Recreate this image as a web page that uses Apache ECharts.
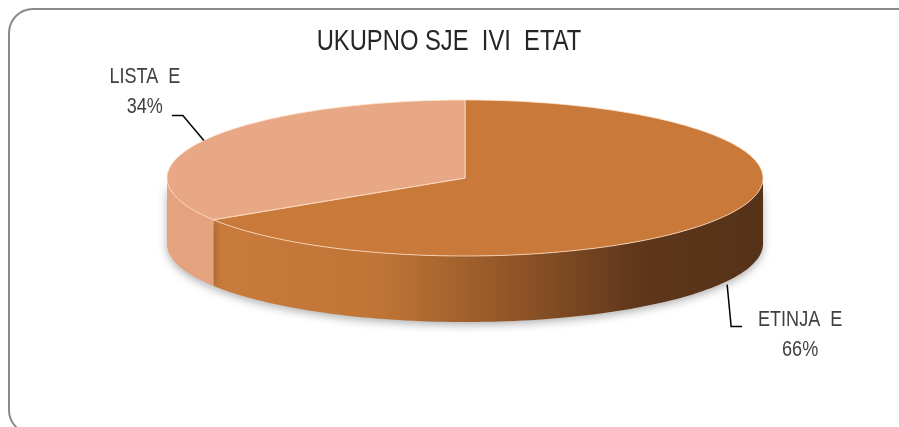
<!DOCTYPE html>
<html>
<head>
<meta charset="utf-8">
<script src="https://cdn.jsdelivr.net/npm/echarts@6/dist/echarts.min.js"></script>
<style>
  html, body { margin: 0; padding: 0; background: #fff; }
  #chart { width: 899px; height: 427px; }
</style>
</head>
<body>
<div id="chart"></div>
<script>
// podaci
var categories = ['ETINJA  E', 'LISTA  E'];
var shares = [66, 34];
var chartTitle = 'UKUPNO SJE  IVI  ETAT';

// boje
var topColors = ['#C97A3A', '#E8A886'];
var sideColors = [
  new echarts.graphic.LinearGradient(0, 0, 1, 0, [
    { offset: 0, color: '#C97B3B' },
    { offset: 0.3, color: '#C07536' },
    { offset: 0.55, color: '#8F5427' },
    { offset: 0.78, color: '#5E361A' },
    { offset: 1, color: '#553218' }
  ]),
  '#E4A27F'
];
var narrow = 0.82; // uski font (Arial Narrow izgled)

// geometrija elipse
var cx = 465, cy = 178, rx = 298, ry = 78, depth = 66;
var total = shares.reduce(function (a, b) { return a + b; }, 0);

function pt(deg, dy) {
  var r = deg * Math.PI / 180;
  return [cx + rx * Math.cos(r), cy - ry * Math.sin(r) + (dy || 0)];
}
function sliceRange(i) {
  var before = 0;
  for (var k = 0; k < i; k++) before += shares[k];
  var start = 90 - 360 * before / total;
  var end = start - 360 * shares[i] / total;
  return [start, end];
}
function arc(a, b, dy) {
  var pts = [], n = Math.max(2, Math.ceil(Math.abs(b - a) / 1.5));
  for (var j = 0; j <= n; j++) pts.push(pt(a + (b - a) * j / n, dy));
  return pts;
}

function renderSide(params, api) {
  var i = params.dataIndex;
  var r = sliceRange(i);
  var hi = r[0], lo = r[1];
  var children = [];
  [[-180, 0], [180, 360], [-540, -360]].forEach(function (f) {
    var a = Math.max(lo, f[0]), b = Math.min(hi, f[1]);
    if (b - a > 0.01) {
      var pts = arc(a, b, 0).concat(arc(b, a, depth));
      children.push({
        type: 'polygon',
        shape: { points: pts },
        style: {
          fill: sideColors[i],
          shadowBlur: 8,
          shadowColor: 'rgba(0,0,0,0.3)',
          shadowOffsetY: 3
        }
      });
    }
  });
  return { type: 'group', children: children };
}

function renderTop(params, api) {
  var i = params.dataIndex;
  var r = sliceRange(i);
  var pts = [[cx, cy]].concat(arc(r[0], r[1], 0));
  var children = [{
    type: 'polygon',
    shape: { points: pts },
    style: { fill: topColors[i], stroke: 'rgba(255,228,205,0.75)', lineWidth: 1 }
  }];
  var mid = (r[0] + r[1]) / 2;
  var label = categories[i] + '\n' + Math.round(api.value(0) / total * 100) + '%';
  var p0, p1, p2, tx, ty;
  if (Math.sin(mid * Math.PI / 180) < 0 || Math.cos(mid * Math.PI / 180) > 0) {
    p0 = pt(mid, depth); p0 = [p0[0] + 1, p0[1] + 3];
    p1 = [p0[0] + 4, p0[1] + 42];
    p2 = [p1[0] + 11, p1[1]];
    tx = p2[0] + 58; ty = p2[1] + 8;
  } else {
    p0 = pt(mid, 0);
    p1 = [p0[0] - 21, p0[1] - 25];
    p2 = [p1[0] - 11, p1[1]];
    tx = p2[0] - 27; ty = p2[1] - 23;
  }
  children.push({
    type: 'polyline',
    shape: { points: [p0, p1, p2] },
    style: { stroke: '#000', lineWidth: 1.5, fill: null }
  });
  children.push({
    type: 'text',
    x: tx, y: ty, scaleX: narrow,
    style: {
      text: label, x: 0, y: 0,
      align: 'center', verticalAlign: 'middle',
      fontSize: 22, lineHeight: 30,
      fontFamily: 'Liberation Sans',
      fill: '#404040'
    }
  });
  return { type: 'group', children: children };
}

var seriesData = categories.map(function (c, i) { return { name: c, value: shares[i] }; });

var chart = echarts.init(document.getElementById('chart'));
chart.setOption({
  animation: false,
  backgroundColor: '#fff',
  graphic: [{
    type: 'rect',
    shape: { x: 9, y: 9, width: 912, height: 425, r: 24 },
    style: { fill: null, stroke: '#8a8a8a', lineWidth: 2 },
    silent: true
  }, {
    type: 'text',
    x: 449, y: 42, scaleX: narrow,
    style: {
      text: chartTitle, x: 0, y: 0,
      align: 'center', verticalAlign: 'middle',
      fontSize: 29, fontFamily: 'Liberation Sans', fill: '#262626'
    },
    silent: true
  }],
  series: [
    { type: 'custom', coordinateSystem: 'none', silent: true, z: 1, renderItem: renderSide, data: seriesData },
    { type: 'custom', coordinateSystem: 'none', silent: true, z: 2, renderItem: renderTop, data: seriesData }
  ]
});
window.onresize = chart.resize;
</script>
</body>
</html>
